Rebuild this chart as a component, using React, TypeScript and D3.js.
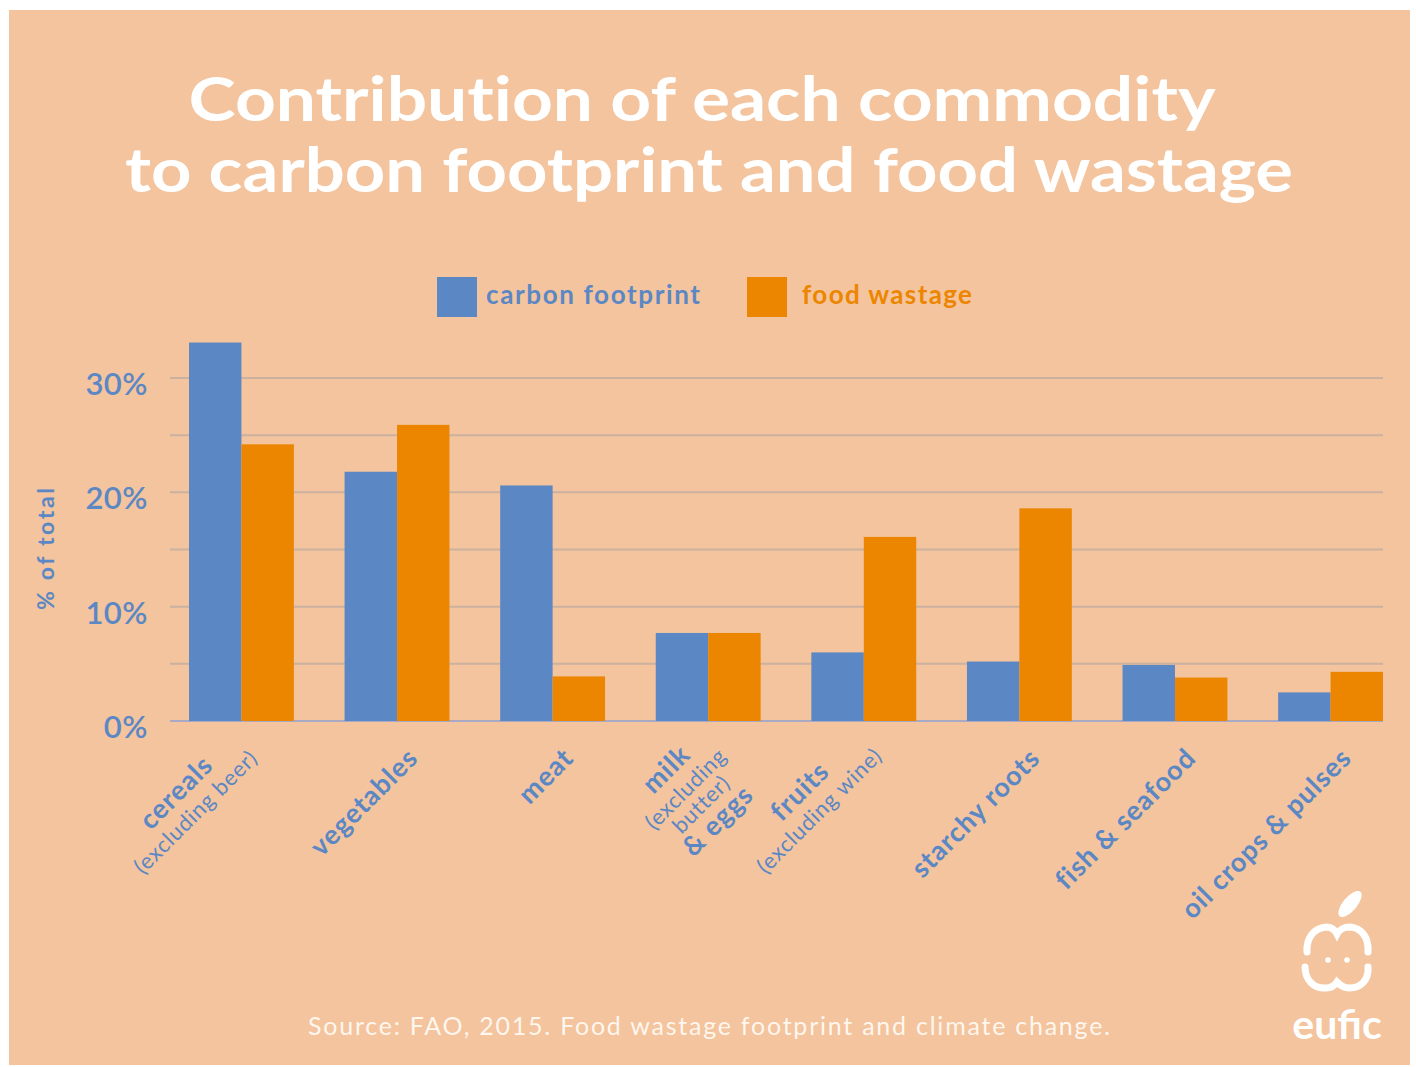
import React, { useMemo } from "react";
import * as d3 from "d3";

// Commodity groups; each label may carry note lines under the name
const categories = [
  "cereals",
  "vegetables",
  "meat",
  "milk",
  "fruits",
  "starchy roots",
  "fish & seafood",
  "oil crops & pulses",
];

const labelLines: { text: string; small: boolean }[][] = [
  [{ text: "cereals", small: false }, { text: "(excluding  beer)", small: true }],
  [{ text: "vegetables", small: false }],
  [{ text: "meat", small: false }],
  [
    { text: "milk", small: false },
    { text: "(excluding", small: true },
    { text: "butter)", small: true },
    { text: "& eggs", small: false },
  ],
  [{ text: "fruits", small: false }, { text: "(excluding wine)", small: true }],
  [{ text: "starchy roots", small: false }],
  [{ text: "fish & seafood", small: false }],
  [{ text: "oil crops & pulses", small: false }],
];

// Share of total (%)
const carbonFootprint = [33.1, 21.8, 20.6, 7.7, 6.0, 5.2, 4.9, 2.5];
const foodWastage = [24.2, 25.9, 3.9, 7.7, 16.1, 18.6, 3.8, 4.3];

const seriesNames = ["carbon footprint", "food wastage"];
const yTickValues = [0, 10, 20, 30];
const gridValues = [0, 5, 10, 15, 20, 25, 30];

const BG = "#f3c49d";
const BLUE = "#5b87c5";
const ORANGE = "#ec8600";
const FONT = "Lato, 'Open Sans', sans-serif";

const MAIN_SIZE = 27;
const MAIN_LS = 1;
const SMALL_SIZE = 22;
const SMALL_LS = 0.8;

function useTextMeasure() {
  return useMemo(() => {
    const canvas = document.createElement("canvas");
    const ctx = canvas.getContext("2d")!;
    return (text: string, size: number, weight: number, spacing: number) => {
      ctx.font = `${weight} ${size}px Lato`;
      return ctx.measureText(text).width + spacing * Math.max(0, text.length - 1);
    };
  }, []);
}

export default function App() {
  const width = 1416;
  const height = 1067;
  const plotLeft = 170;
  const plotRight = 1383;

  const y = d3.scaleLinear().domain([0, 30]).range([721, 378]);
  const x = d3
    .scaleBand<string>()
    .domain(categories)
    .range([189, 1383])
    .paddingInner(0.326)
    .paddingOuter(0);
  const xs = d3.scaleBand<string>().domain(seriesNames).range([0, x.bandwidth()]);
  const colors = d3.scaleOrdinal<string, string>().domain(seriesNames).range([BLUE, ORANGE]);
  const seriesValues = [carbonFootprint, foodWastage];

  const measure = useTextMeasure();

  return (
    <svg
      width={width}
      height={height}
      style={{ position: "absolute", left: 0, top: 0, display: "block" }}
      fontFamily={FONT}
    >
      <rect x={0} y={0} width={width} height={height} fill="#ffffff" />
      <rect x={9} y={10} width={1401} height={1055} fill={BG} />

      {/* Title */}
      <g
        fill="#ffffff"
        fontWeight={700}
        textAnchor="middle"
        fontSize={62}
        style={{ fontVariantLigatures: "none" }}
      >
        <text x={702} y={121} textLength={1027} lengthAdjust="spacingAndGlyphs">
          Contribution of each commodity
        </text>
        <text x={709} y={192} textLength={1168} lengthAdjust="spacingAndGlyphs">
          to carbon footprint and food wastage
        </text>
      </g>

      {/* Legend */}
      <g fontWeight={700} fontSize={26}>
        <rect x={437} y={277} width={40} height={40} fill={BLUE} />
        <text x={486} y={304} fill={BLUE} textLength={214} lengthAdjust="spacing">
          carbon footprint
        </text>
        <rect x={747} y={277} width={40} height={40} fill={ORANGE} />
        <text x={802} y={304} fill={ORANGE} textLength={170} lengthAdjust="spacing">
          food wastage
        </text>
      </g>

      {/* Gridlines */}
      {gridValues.map((v) => (
        <line
          key={v}
          x1={plotLeft}
          x2={plotRight}
          y1={y(v)}
          y2={y(v)}
          stroke={v === 0 ? "#a9a9c4" : "#cbb1a0"}
          strokeWidth={2}
        />
      ))}

      {/* Y tick labels */}
      <g fill={BLUE} fontSize={31} fontWeight={600} textAnchor="end" letterSpacing={0.5}>
        {yTickValues.map((v) => (
          <text key={v} x={148} y={y(v) + 17}>
            {v}%
          </text>
        ))}
      </g>
      <text
        transform="translate(54,549) rotate(-90)"
        textAnchor="middle"
        fill={BLUE}
        fontSize={23}
        fontWeight={700}
        textLength={122}
        lengthAdjust="spacing"
      >
        % of total
      </text>

      {/* Bars */}
      {categories.map((c, i) => (
        <g key={c} transform={`translate(${x(c)},0)`}>
          {seriesNames.map((s, k) => {
            const v = seriesValues[k][i];
            return (
              <rect
                key={s}
                x={xs(s)}
                y={y(v)}
                width={xs.bandwidth()}
                height={y(0) - y(v)}
                fill={colors(s)}
              />
            );
          })}
        </g>
      ))}

      {/* Category labels, rotated; the longest line ends just below its group */}
      {categories.map((c, i) => {
        const lines = labelLines[i];
        const sizes = lines.map((l) => (l.small ? SMALL_SIZE : MAIN_SIZE));
        const widths = lines.map((l) =>
          l.small
            ? measure(l.text, SMALL_SIZE, 400, SMALL_LS)
            : measure(l.text, MAIN_SIZE, 700, MAIN_LS)
        );
        const blockW = Math.max(...widths);
        const longest = widths.indexOf(blockW);
        const baselines: number[] = [];
        let b = 0;
        lines.forEach((l, j) => {
          if (j > 0) {
            const prevSmall = lines[j - 1].small;
            b += l.small ? (prevSmall ? 22 : 26) : 25;
          }
          baselines.push(b);
        });
        const shift = sizes[longest] * 0.74 - baselines[longest];
        const cx = (x(c) ?? 0) + x.bandwidth() / 2;
        return (
          <g
            key={c}
            transform={`translate(${cx + 8},${746}) rotate(-45)`}
            fill={BLUE}
            textAnchor="middle"
          >
            {lines.map((l, j) => (
              <text
                key={j}
                x={-blockW / 2}
                y={baselines[j] + shift}
                fontSize={sizes[j]}
                fontWeight={l.small ? 400 : 700}
                letterSpacing={l.small ? SMALL_LS : MAIN_LS}
              >
                {l.text}
              </text>
            ))}
          </g>
        );
      })}

      {/* Source */}
      <text
        x={308}
        y={1035}
        fill="#fff6ee"
        fontSize={25}
        textLength={802}
        lengthAdjust="spacing"
      >
        Source: FAO, 2015. Food wastage footprint and climate change.
      </text>

      {/* Logo */}
      <g fill="none" stroke="#ffffff" strokeWidth={7} strokeLinecap="round">
        <path d="M1307,952 C1306,938 1314,928 1326,927 C1331,927 1335,930 1337,934 C1339,930 1344,927 1350,927 C1362,928 1369,938 1368,952" />
        <path d="M1305,967 C1305,980 1314,989 1326,988 C1331,988 1335,985 1337,982 C1340,985 1344,988 1349,988 C1361,988 1369,980 1368,967" />
      </g>
      <circle cx={1328} cy={960} r={2.8} fill="#ffffff" />
      <circle cx={1347} cy={960} r={2.8} fill="#ffffff" />
      <ellipse cx={1350} cy={904} rx={16} ry={7} transform="rotate(-50,1350,904)" fill="#ffffff" />
      <text x={1337} y={1039} textAnchor="middle" fill="#ffffff" fontSize={41} fontWeight={700}>
        eufic
      </text>
    </svg>
  );
}
